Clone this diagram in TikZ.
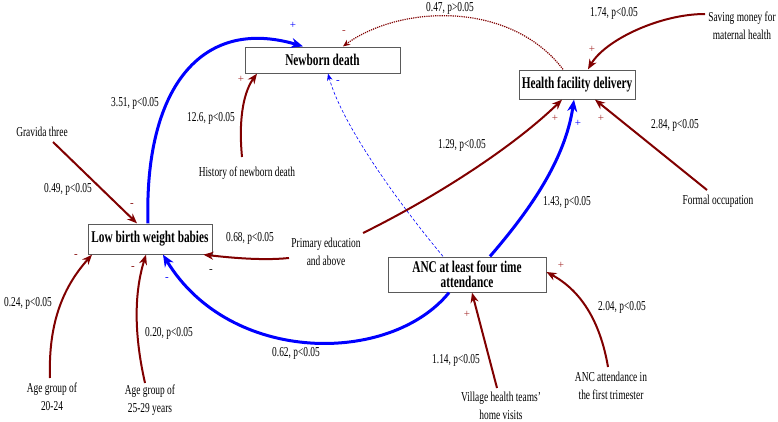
\documentclass[tikz,border=0pt]{standalone}
\usepackage{fontspec}
\setmainfont{Liberation Serif}
\usetikzlibrary{arrows.meta}
\definecolor{br}{RGB}{128,0,0}
\definecolor{sr}{RGB}{165,45,45}
\definecolor{bl}{RGB}{0,0,255}
\definecolor{bx}{RGB}{90,90,90}
\begin{document}
\begin{tikzpicture}[x=1pt,y=-1pt,
 box/.style={draw=bx, line width=0.9pt, fill=white, inner sep=0pt, yscale=1.45,
   font=\fontsize{11.3}{10.3}\selectfont\bfseries, align=center},
 lab/.style={inner sep=0pt, yscale=1.45, font=\fontsize{9.4}{12.4}\selectfont, align=center},
 sgn/.style={inner sep=0pt, font=\fontsize{11}{11}\selectfont},
 barr/.style={br, line width=2pt, -{Stealth[length=10pt,width=8pt]}},
 blarr/.style={bl, line width=3pt, -{Stealth[length=12pt,width=10pt]}},
]
\useasboundingbox (0,0) rectangle (778,422);

% boxes
\node[box, minimum width=155pt, minimum height=17.9pt] (nd) at (322.5,60) {Newborn death};
\node[box, minimum width=116pt, minimum height=20pt] (hfd) at (577,84.5) {Health facility delivery};
\node[box, minimum width=124pt, minimum height=20.7pt] (lbw) at (150,239) {Low birth weight babies};
\node[box, minimum width=158pt, minimum height=24.1pt] (anc) at (467,274.5) {ANC at least four time\\attendance};

% factor texts
\node[lab] (gravida) at (42,132) {Gravida three};
\node[lab] (hist) at (247,173) {History of newborn death};
\node[lab] (primedu) at (326,252) {Primary education\\and above};
\node[lab] (formal) at (718,201) {Formal occupation};
\node[lab] (saving) at (742,26) {Saving money for\\maternal health};
\node[lab] (age1) at (52,397) {Age group of\\20-24};
\node[lab] (age2) at (150,400) {Age group of\\25-29 years};
\node[lab] (village) at (501,406) {Village health teams'\\home visits};
\node[lab] (anctri) at (611,386) {ANC attendance in\\the first trimester};

% coefficient labels
\node[lab] (l351) at (135,103) {3.51, p<0.05};
\node[lab] (l126) at (211,118) {12.6, p<0.05};
\node[lab] (l047) at (450,8) {0.47, p>0.05};
\node[lab] (l174) at (614,13) {1.74, p<0.05};
\node[lab] (l284) at (675,125) {2.84, p<0.05};
\node[lab] (l129) at (462,145) {1.29, p<0.05};
\node[lab] (l143) at (567,202) {1.43, p<0.05};
\node[lab] (l049) at (68,189) {0.49, p<0.05};
\node[lab] (l068) at (250,238) {0.68, p<0.05};
\node[lab] (l024) at (28,303) {0.24, p<0.05};
\node[lab] (l020) at (169,333) {0.20, p<0.05};
\node[lab] (l062) at (296,353) {0.62, p<0.05};
\node[lab] (l114) at (456,360) {1.14, p<0.05};
\node[lab] (l204) at (622,307) {2.04, p<0.05};

% free ends
\coordinate (g0) at (53,142);
\coordinate (h0) at (242,157);
\coordinate (p0) at (289,258);
\coordinate (p1) at (363,233);
\coordinate (f0) at (707,190);
\coordinate (sv0) at (705,14);
\coordinate (a0) at (50,378);
\coordinate (a1) at (145,383);
\coordinate (v0) at (497,388);
\coordinate (t0) at (608,367);

% connectors
\draw[blarr] ([xshift=-2pt]lbw.north) .. controls (144,90) and (200,16) .. ([xshift=-19.5pt]nd.north);
\draw[barr] (h0) .. controls (238,115) and (245,90) .. ([xshift=-65.5pt]nd.south);
\draw[br, line width=1.2pt, densely dotted, -{Stealth[length=7pt,width=6pt]}]
  ([xshift=-14pt]hfd.north) .. controls (510,0) and (400,5) .. ([xshift=20.5pt]nd.north);
\draw[bl, line width=0.6pt, dash pattern=on 3pt off 2pt, -{Stealth[length=7pt,width=5.5pt]}]
  ([xshift=-24pt]anc.north) .. controls (400,205) and (342,125) .. ([xshift=5.5pt]nd.south);
\draw[barr] (g0) -- ([xshift=-13pt]lbw.north);
\draw[barr] (p0) .. controls (260,261) and (225,257) .. ([xshift=-9pt]lbw.south east);
\draw[barr] (p1) .. controls (430,200) and (510,150) .. ([xshift=-15pt]hfd.south);
\draw[blarr] ([xshift=23pt]anc.north) .. controls (530,210) and (565,160) .. ([xshift=-3pt]hfd.south);
\draw[barr] (f0) -- ([xshift=18pt]hfd.south);
\draw[barr] (sv0) .. controls (660,14) and (605,40) .. ([xshift=11pt]hfd.north);
\draw[blarr] ([xshift=-18pt]anc.south) .. controls (390,365) and (230,365) .. ([xshift=13pt]lbw.south);
\draw[barr] (a0) .. controls (48,320) and (65,285) .. ([xshift=-58pt]lbw.south);
\draw[barr] (a1) .. controls (133,330) and (135,290) .. ([xshift=-4pt]lbw.south);
\draw[barr] (v0) -- ([xshift=5pt]anc.south);
\draw[barr] (t0) .. controls (600,320) and (580,290) .. ([yshift=2.5pt]anc.east);

% signs
\node[sgn, text=bl] (s1) at (293,25) {+};
\node[sgn, text=sr] (s2) at (241,79) {+};
\node[sgn, text=sr] (s3) at (344,32) {-};
\node[sgn, text=bl] (s4) at (338,82) {-};
\node[sgn, text=sr] (s5) at (592,49) {+};
\node[sgn, text=sr] (s6) at (555,118) {+};
\node[sgn, text=bl] (s7) at (578,123) {+};
\node[sgn, text=sr] (s8) at (601,118) {+};
\node[sgn, text=br] (s9) at (132,205) {-};
\node[sgn, text=br] (s10) at (76,256) {-};
\node[sgn, text=br] (s11) at (133,268) {-};
\node[sgn, text=black] (s12) at (211,271) {-};
\node[sgn, text=bl] (s13) at (167,279) {-};
\node[sgn, text=sr] (s14) at (467,314) {+};
\node[sgn, text=sr] (s15) at (561,265) {+};
\end{tikzpicture}
\end{document}
